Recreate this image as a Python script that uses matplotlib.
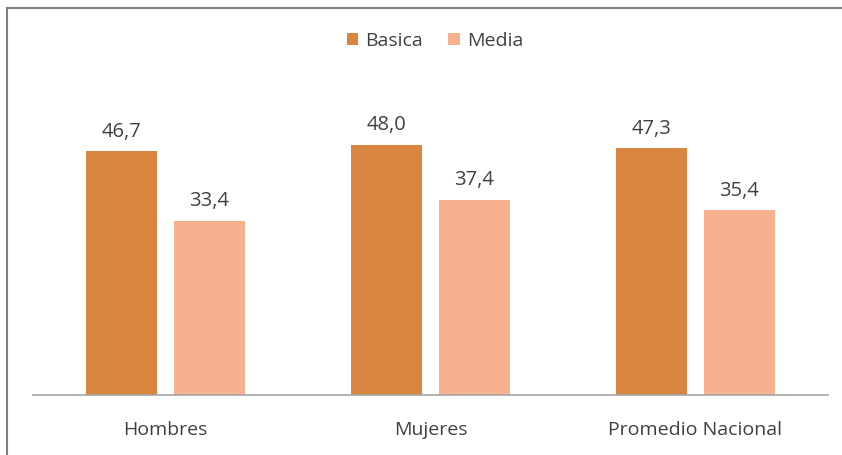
import matplotlib
matplotlib.use("Agg")
import matplotlib.pyplot as plt
from matplotlib.lines import Line2D
import numpy as np

categorias = ["Hombres", "Mujeres", "Promedio Nacional"]
series = ["Basica", "Media"]
basica = [46.7, 48.0, 47.3]
media = [33.4, 37.4, 35.4]

colores = ["#D9843F", "#F7B18F"]
texto = "#404040"

plt.rcParams['font.family'] = ['Open Sans', 'DejaVu Sans']

fig = plt.figure(figsize=(8.42, 4.55), dpi=100)
W, H = 842, 455
# plot area in pixels: x 33..828, baseline y=395, top for ylim 60
ax = fig.add_axes([33 / W, (H - 395) / H, 795 / W, (395 - 82) / H])

x = np.arange(len(categorias))
ancho = 0.268
desp = 0.166
b1 = ax.bar(x - desp, basica, ancho, color=colores[0], label=series[0])
b2 = ax.bar(x + desp, media, ancho, color=colores[1], label=series[1])

for barras in (b1, b2):
    for r in barras:
        v = r.get_height()
        ax.annotate(f"{v:.1f}".replace(".", ","),
                    (r.get_x() + r.get_width() / 2, v),
                    xytext=(0, 7), textcoords="offset points",
                    ha="center", va="bottom", fontsize=14.5, color=texto)

ax.set_xlim(-0.5, 2.5)
ax.set_ylim(0, 60)
ax.set_xticks(x)
ax.set_xticklabels(categorias, fontsize=14, color=texto)
ax.tick_params(axis="x", length=0, pad=19)
ax.set_yticks([])
for s in ["top", "right", "left"]:
    ax.spines[s].set_visible(False)
ax.spines["bottom"].set_color("#A6A6A6")
ax.spines["bottom"].set_linewidth(1.2)

fig.legend(handles=[b1, b2], labels=series, loc="center",
           bbox_to_anchor=(435 / W, 1 - 41 / H), ncol=2, frameon=False,
           fontsize=14, handlelength=0.6, handleheight=0.6,
           handletextpad=0.35, columnspacing=1.3, labelcolor=texto)

# marco exterior (solo arriba e izquierda visibles)
fig.add_artist(Line2D([7 / W, 1], [1 - 8 / H, 1 - 8 / H], color="#808080", lw=1.5,
                      transform=fig.transFigure))
fig.add_artist(Line2D([7 / W, 7 / W], [0, 1 - 8 / H], color="#808080", lw=1.5,
                      transform=fig.transFigure))

fig.savefig("out.png", dpi=100)
